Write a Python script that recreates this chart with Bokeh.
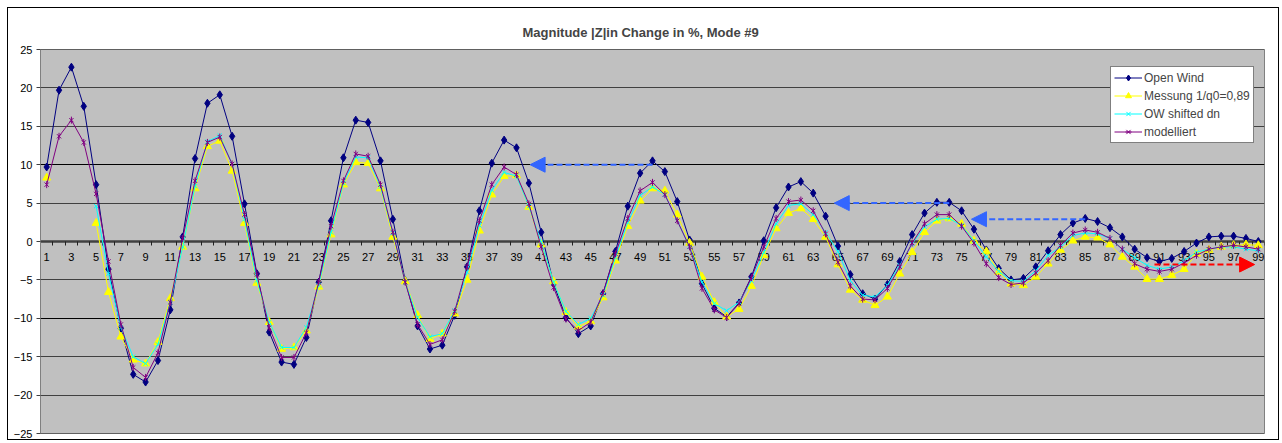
from bokeh.plotting import figure
from bokeh.models import FixedTicker, Legend, LegendItem, Arrow, NormalHead, Range1d
from bokeh.embed import file_html
from bokeh.resources import INLINE
import math

nan = float("nan")

points = list(range(1, 100))

open_wind = [
    9.7, 19.7, 22.7, 17.6, 7.4, -3.6, -11.3, -17.3, -18.3, -15.5,
    -8.9, 0.6, 10.8, 18.0, 19.1, 13.7, 4.9, -4.2, -11.8, -15.7,
    -16.0, -12.5, -5.3, 2.7, 10.9, 15.8, 15.5, 10.5, 2.9, -5.1,
    -11.0, -14.0, -13.5, -9.6, -3.3, 4.0, 10.2, 13.2, 12.2, 7.6,
    1.2, -5.5, -9.9, -12.0, -11.0, -6.8, -1.3, 4.6, 8.9, 10.5,
    9.1, 5.2, 0.2, -5.5, -8.7, -9.8, -8.0, -4.6, 0.1, 4.4,
    7.1, 7.8, 6.3, 3.3, -0.6, -4.3, -6.8, -7.5, -5.6, -2.6,
    0.9, 3.7, 5.1, 5.1, 4.0, 1.6, -1.1, -3.5, -5.0, -4.8,
    -3.3, -1.2, 0.9, 2.4, 3.0, 2.6, 1.8, 0.6, -1.0, -2.1,
    -2.6, -2.2, -1.3, -0.2, 0.6, 0.7, 0.7, 0.4, 0.0,
]

messung = [
    8.3, nan, nan, nan, 2.4, -6.6, -12.4, -15.4, -15.9, -13.1,
    -7.4, -0.7, 6.9, 12.4, 13.1, 9.2, 2.4, -5.4, -10.5, -14.0,
    -13.8, -11.6, -5.9, 0.9, 7.4, 10.3, 10.2, 6.9, 0.6, -5.2,
    -9.6, -12.7, -12.0, -9.4, -5.0, 1.4, 6.1, 8.5, 8.6, 4.5,
    -0.4, -5.2, -9.2, -11.1, -10.4, -7.3, -2.5, 2.0, 5.3, 6.9,
    6.6, 3.5, -0.2, -4.6, -7.9, -9.8, -8.8, -5.8, -1.8, 1.7,
    3.7, 4.3, 2.9, 0.6, -3.0, -6.3, -7.6, -8.3, -7.2, -4.2,
    -1.4, 1.2, 2.7, 3.0, 2.3, 0.1, -1.3, -4.0, -5.5, -5.7,
    -4.6, -2.9, -1.1, 0.1, 0.6, 0.5, -0.4, -2.0, -3.3, -4.9,
    -4.9, -4.4, -3.6, -1.6, -1.1, -0.7, -0.5, -0.4, -0.5,
]

ow_shifted = [
    nan, nan, nan, nan, 4.6, -4.2, -11.2, -15.0, -15.9, -13.4,
    -7.9, -0.7, 7.2, 13.0, 13.8, 10.1, 2.9, -5.1, -10.5, -13.8,
    -13.8, -11.2, -5.7, 1.2, 7.6, 11.0, 10.9, 7.1, 1.1, -5.3,
    -9.9, -12.4, -12.0, -9.0, -4.0, 2.1, 6.7, 9.0, 8.5, 4.6,
    -0.1, -5.3, -9.1, -10.8, -10.0, -7.0, -2.1, 2.5, 6.0, 7.1,
    6.1, 2.7, -0.7, -5.3, -8.1, -9.0, -7.9, -5.1, -1.4, 2.3,
    4.7, 4.9, 3.5, 1.2, -1.3, -5.1, -7.0, -7.2, -5.7, -3.1,
    -0.3, 1.9, 2.9, 3.0, 2.1, 0.1, -2.0, -3.9, -5.1, -5.2,
    -3.8, -1.8, -0.7, 0.8, 1.1, 1.0, 0.4, -1.0, -2.1, -3.1,
    -3.6, -3.3, -2.5, -1.4, -1.0, -0.7, -0.7, -1.0, -1.2,
]

modelliert = [
    7.4, 13.7, 15.8, 12.9, 6.2, -2.6, -10.8, -16.4, -17.7, -14.5,
    -7.9, 0.4, 7.9, 12.9, 13.6, 10.1, 3.5, -4.3, -11.2, -15.1,
    -15.1, -11.9, -5.3, 2.0, 7.9, 11.4, 11.1, 7.4, 1.2, -5.3,
    -10.8, -13.4, -12.8, -9.1, -3.3, 2.7, 7.4, 9.7, 8.7, 4.9,
    -0.7, -6.0, -10.1, -11.6, -10.5, -6.7, -1.6, 3.0, 6.6, 7.7,
    6.1, 2.7, -0.7, -6.1, -8.9, -9.9, -8.1, -4.7, -0.7, 3.0,
    5.2, 5.4, 4.0, 1.0, -2.7, -5.8, -7.5, -7.6, -6.1, -3.3,
    -0.2, 2.3, 3.5, 3.5, 2.0, -0.2, -2.9, -4.7, -5.6, -5.4,
    -4.1, -2.5, -0.5, 1.1, 1.5, 1.2, 0.4, -1.0, -2.9, -3.6,
    -3.9, -3.6, -2.8, -1.8, -1.0, -0.7, -0.5, -0.7, -1.0,
]

series_names = ["Open Wind", "Messung 1/q0=0,89", "OW shifted dn", "modelliert"]

x_ticks = list(range(1, 100, 2))
x_minor_ticks = [k + 0.5 for k in range(0, 100)]
y_ticks = list(range(-25, 26, 5))

# annotation arrows (from -> to, data coordinates)
arrow_x_from = [50.0, 74.0, 85.0, 90.6]
arrow_x_to = [40.1, 64.7, 75.8, 98.7]
arrow_y = [10.0, 5.0, 2.9, -3.0]
arrow_colors = ["#3366FF", "#3366FF", "#3366FF", "#FF0000"]

FONT = "Liberation Sans"

p = figure(
    frame_width=1224, frame_height=384,
    x_range=Range1d(0.5, 99.5), y_range=Range1d(-25, 25),
    output_backend="svg", toolbar_location=None,
    min_border_left=32, min_border_right=14, min_border_top=41, min_border_bottom=6,
    background_fill_color="#C0C0C0", border_fill_color="white",
    outline_line_color="#808080", outline_line_width=1,
)
p.styles = {"border": "1px solid black", "margin-left": "7px", "margin-top": "7px"}

p.title.text = "Magnitude |Z|in Change in %, Mode #9"
p.title.align = "left"
p.title.text_font = FONT
p.title.text_font_size = "13px"
p.title.text_font_style = "bold"
p.title.standoff = 19
p.title.offset = 482

p.xgrid.visible = False
p.ygrid.visible = False

grid_vals = [v for v in y_ticks if v != 0]
grid_colors = ["#000000" if abs(v) == 10 else "#404040" for v in grid_vals]
p.hspan(y=grid_vals, line_color=grid_colors, line_width=1)

# x axis crossing at zero
xa = p.xaxis[0]
xa.fixed_location = 0
xa.level = "underlay"
xa.ticker = FixedTicker(ticks=x_ticks, minor_ticks=x_minor_ticks)
xa.axis_line_color = "#404040"
xa.axis_line_width = 2.5
xa.major_tick_line_color = None
xa.major_tick_out = 0
xa.minor_tick_line_color = "#202020"
xa.minor_tick_out = 4
xa.minor_tick_in = 0
xa.major_label_standoff = 7
xa.major_label_text_font = FONT
xa.major_label_text_font_size = "11px"
xa.major_label_text_color = "black"

ya = p.yaxis[0]
ya.ticker = FixedTicker(ticks=y_ticks)
ya.axis_line_color = "#808080"
ya.major_tick_line_color = "#404040"
ya.major_tick_out = 4
ya.major_tick_in = 0
ya.minor_tick_line_color = None
ya.major_label_standoff = 4
ya.major_label_text_font = FONT
ya.major_label_text_font_size = "11px"
ya.major_label_text_color = "black"

items = []

l1 = p.line(points, open_wind, line_color="#000080", line_width=1)
s1 = p.scatter(points, open_wind, marker="diamond", size=8, fill_color="#000080", line_color="#000080")
items.append(LegendItem(label=series_names[0], renderers=[l1, s1]))

l2 = p.line(points, messung, line_color="#FFFF00", line_width=1)
s2 = p.scatter(points, messung, marker="triangle", size=8, fill_color="#FFFF00", line_color="#FFFF00")
items.append(LegendItem(label=series_names[1], renderers=[l2, s2]))

l3 = p.line(points, ow_shifted, line_color="#00FFFF", line_width=1)
s3 = p.scatter(points, ow_shifted, marker="x", size=6, line_color="#00FFFF", line_width=1)
items.append(LegendItem(label=series_names[2], renderers=[l3, s3]))

l4 = p.line(points, modelliert, line_color="#800080", line_width=1)
s4 = p.scatter(points, modelliert, marker="x", size=6, line_color="#800080", line_width=1)
s4b = p.scatter(points, modelliert, marker="dash", angle=math.pi / 2, size=7, line_color="#800080", line_width=1)
items.append(LegendItem(label=series_names[3], renderers=[l4, s4, s4b]))

for xf, xt, yy, c in zip(arrow_x_from, arrow_x_to, arrow_y, arrow_colors):
    p.add_layout(Arrow(
        x_start=xf, y_start=yy, x_end=xt, y_end=yy,
        line_color=c, line_width=2, line_dash="6 3",
        end=NormalHead(size=15, fill_color=c, line_color=c, line_width=1),
    ))

legend = Legend(
    items=items, location=(1070, 290),
    border_line_color="black", border_line_width=1,
    background_fill_color="white", background_fill_alpha=1.0,
    label_text_font=FONT, label_text_font_size="12px",
    glyph_width=28, glyph_height=15, label_height=15,
    spacing=3, padding=3, margin=0, label_standoff=2,
)
p.add_layout(legend)

open("out.html", "w").write(file_html(p, INLINE))
